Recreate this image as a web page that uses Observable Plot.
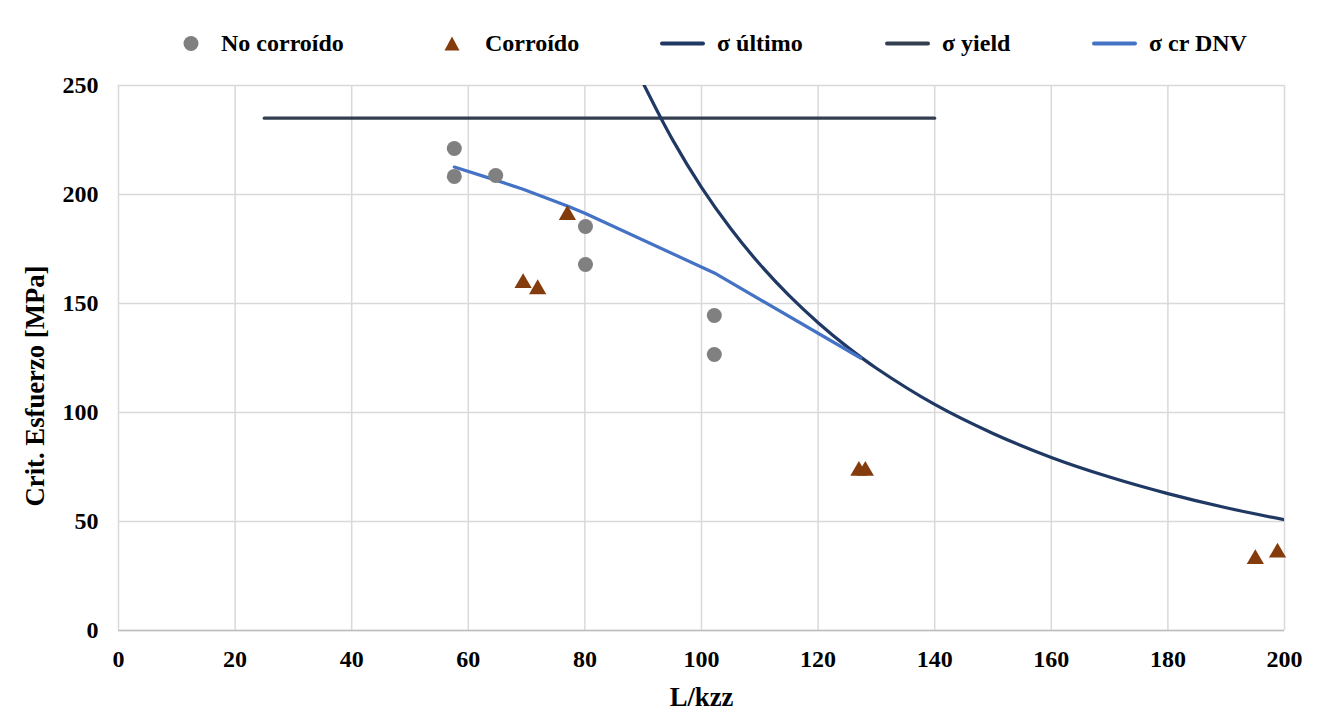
<!DOCTYPE html>
<html><head><meta charset="utf-8">
<script src="https://cdn.jsdelivr.net/npm/d3@7"></script>
<script src="https://cdn.jsdelivr.net/npm/@observablehq/plot@0.6"></script>
<style>
body{margin:0;background:#fff;font-family:"Liberation Serif","Times New Roman",serif;font-weight:bold;color:#000;}
#legend{height:70px;position:relative;width:1326px;}
.item{position:absolute;top:43px;transform:translateY(-50%);display:flex;align-items:center;font-size:24px;white-space:nowrap;}
.item svg{display:block;}
</style></head><body>
<div id="legend"></div><div id="chart"></div>
<script>
// ---- data ----
const xTicks = [0, 20, 40, 60, 80, 100, 120, 140, 160, 180, 200];
const yTicks = [0, 50, 100, 150, 200, 250];

const noCorrX = [57.6, 57.6, 64.7, 80.1, 80.1, 102.2, 102.2];
const noCorrY = [221.1, 208.3, 208.7, 185.3, 167.9, 144.5, 126.6];

const corrX = [69.4, 71.9, 77.0, 127.0, 128.1, 195.0, 198.8];
const corrY = [159.8, 157.0, 191.1, 73.7, 73.7, 33.2, 36.2];

const ultX = [90, 95, 100, 105, 110, 115, 120, 125, 130, 140, 150, 160, 170, 180, 190, 200];
const ultY = [251.0, 225.3, 203.3, 184.4, 168.0, 153.7, 141.2, 130.1, 120.3, 103.7, 90.4, 79.4, 70.4, 62.8, 56.3, 50.8];

const yieldX = [25, 140];
const yieldY = [235, 235];

const dnvX = [57.6, 64.7, 69.4, 77.0, 80.1, 102.2, 127.3];
const dnvY = [212.6, 206.6, 202.4, 194.7, 191.3, 164.0, 125.0];

const seriesNames = ["No corroído", "Corroído", "σ último", "σ yield", "σ cr DNV"];
const seriesColors = ["#808080", "#843C0C", "#1F3864", "#333F50", "#4472C4"];

const yLabel = "Crit. Esfuerzo [MPa]";
const xLabel = "L/kzz";

// ---- tables ----
const zip = (xs, ys) => xs.map((x, i) => ({x, y: ys[i]}));
const noCorr = zip(noCorrX, noCorrY);
const corr = zip(corrX, corrY);
const ult = zip(ultX, ultY);
const yld = zip(yieldX, yieldY);
const dnv = zip(dnvX, dnvY);

// ---- legend ----
const legend = document.getElementById("legend");
const lefts = [183, 444, 660, 885, 1092];
const ns = "http://www.w3.org/2000/svg";
seriesNames.forEach((name, i) => {
  const item = document.createElement("div");
  item.className = "item";
  item.style.left = lefts[i] + "px";
  const s = document.createElementNS(ns, "svg");
  if (i === 0) {
    s.setAttribute("width", 16); s.setAttribute("height", 16);
    s.style.marginRight = "22px";
    s.innerHTML = `<circle cx="8" cy="8" r="7.5" fill="${seriesColors[0]}"/>`;
  } else if (i === 1) {
    s.setAttribute("width", 16); s.setAttribute("height", 16);
    s.style.marginRight = "25px";
    s.innerHTML = `<path d="M8,1 L15.5,15 L0.5,15 Z" fill="${seriesColors[1]}"/>`;
  } else {
    s.setAttribute("width", 45); s.setAttribute("height", 16);
    s.style.marginRight = "12px";
    s.innerHTML = `<line x1="2" x2="43" y1="8" y2="8" stroke="${seriesColors[i]}" stroke-width="4" stroke-linecap="round"/>`;
  }
  item.appendChild(s);
  const t = document.createElement("span");
  t.textContent = name;
  item.appendChild(t);
  legend.appendChild(item);
});

// ---- chart ----
const chart = Plot.plot({
  width: 1326,
  height: 648,
  marginTop: 15,
  marginBottom: 88,
  marginLeft: 118,
  marginRight: 42,
  style: {fontFamily: "Liberation Serif, Times New Roman, serif", fontWeight: "bold", fontSize: "24px", color: "#000", background: "#fff"},
  x: {domain: [0, 200], label: null},
  y: {domain: [0, 250], label: null},
  marks: [
    Plot.gridX(xTicks, {stroke: "#d9d9d9", strokeOpacity: 1, strokeWidth: 1.5}),
    Plot.gridY(yTicks, {stroke: "#d9d9d9", strokeOpacity: 1, strokeWidth: 1.5}),
    Plot.ruleY([0], {stroke: "#bfbfbf", strokeWidth: 1.5}),
    Plot.axisX(xTicks, {tickSize: 0, tickPadding: 19, label: null, fontSize: 24, fontWeight: "bold"}),
    Plot.axisY(yTicks, {tickSize: 0, tickPadding: 20, label: null, fontSize: 24, fontWeight: "bold"}),
    Plot.text([yLabel], {frameAnchor: "left", dx: -83, dy: 28, rotate: -90, textAnchor: "middle", lineAnchor: "middle", fontSize: 26.7, fontWeight: "bold", fill: "#000"}),
    Plot.text([xLabel], {frameAnchor: "bottom", dy: 67, textAnchor: "middle", lineAnchor: "middle", fontSize: 26.7, fontWeight: "bold", fill: "#000"}),
    Plot.line(yld, {x: "x", y: "y", stroke: seriesColors[3], strokeWidth: 3.2}),
    Plot.line(ult, {x: "x", y: "y", stroke: seriesColors[2], strokeWidth: 3.2, curve: "catmull-rom", clip: true}),
    Plot.line(dnv, {x: "x", y: "y", stroke: seriesColors[4], strokeWidth: 3.2, curve: "linear"}),
    Plot.dot(noCorr, {x: "x", y: "y", r: 7.5, fill: seriesColors[0], stroke: "none"}),
    Plot.dot(corr, {x: "x", y: "y", r: 6.4, symbol: "triangle", fill: seriesColors[1], stroke: "none", dy: 1})
  ]
});
document.getElementById("chart").appendChild(chart);
</script>
</body></html>
